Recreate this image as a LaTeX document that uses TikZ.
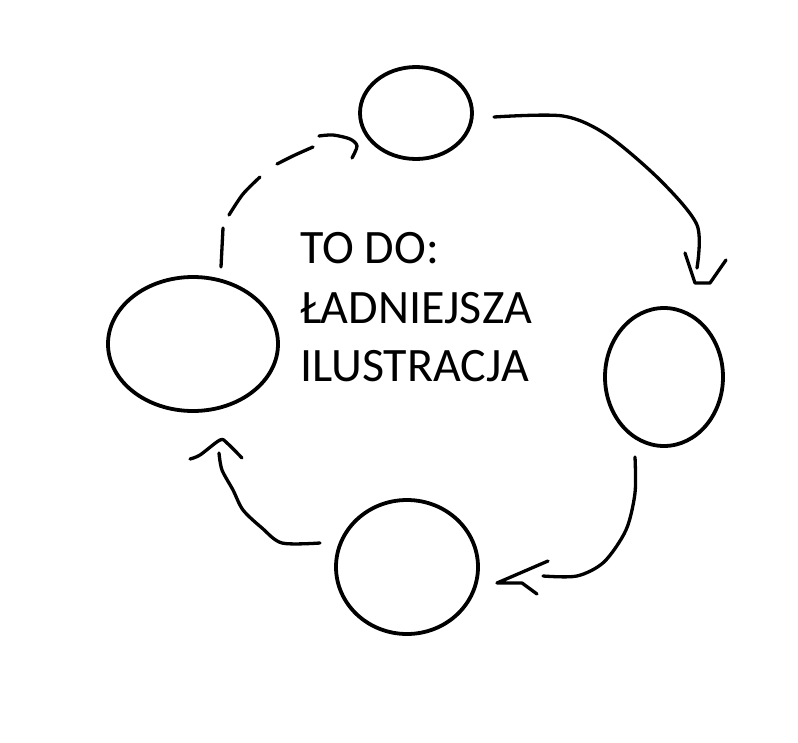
\documentclass[tikz,border=0pt]{standalone}
\usepackage{fontspec}
\setmainfont{Carlito}
\begin{document}
\begin{tikzpicture}[x=1pt,y=-1pt,
  blob/.style={line width=3.8pt},
  pen/.style={line width=3.3pt,line cap=round,line join=round},
  lbl/.style={anchor=base west,inner sep=0pt,font=\fontsize{48}{59}\selectfont}]
\useasboundingbox[fill=white] (0,0) rectangle (798,742);
\draw[blob] (416,113) ellipse [x radius=56, y radius=46];
\draw[blob] (193,344) ellipse [x radius=85, y radius=67];
\draw[blob] (664,377) ellipse [x radius=59, y radius=69];
\draw[blob] (407,567) ellipse [x radius=71, y radius=67];
\node[lbl] (t1) at (300,263) {TO DO:};
\node[lbl] (t2) at (300,323) {ŁADNIEJSZA};
\node[lbl] (t3) at (300,381) {ILUSTRACJA};
% top -> right
\draw[pen] plot[smooth] coordinates {(494,117) (563,116) (607,135) (660,180) (697,225) (697,268)};
\draw[pen] plot coordinates {(685,253) (695,283) (710,283) (726,260)};
% right -> bottom
\draw[pen] plot[smooth] coordinates {(635,457) (635,493) (626,530) (604,562) (577,576) (543,576)};
\draw[pen] plot coordinates {(548,561) (497,583) (522,583) (537,594)};
% bottom -> left
\draw[pen] plot[smooth] coordinates {(320,543) (282,543) (262,528) (243,510) (233,490) (222,470) (219,453)};
\draw[pen] plot[smooth] coordinates {(190,459) (200,455) (220,440) (227,443) (242,458)};
% left -> top (dashed)
\draw[pen] (221,267) -- (223,228);
\draw[pen] plot[smooth] coordinates {(229,215) (243,194) (260,177)};
\draw[pen] plot[smooth] coordinates {(277,164) (295,155) (313,147)};
\draw[pen] plot[smooth] coordinates {(319,136) (333,135) (350,139) (357,146) (352,158)};
\end{tikzpicture}
\end{document}
